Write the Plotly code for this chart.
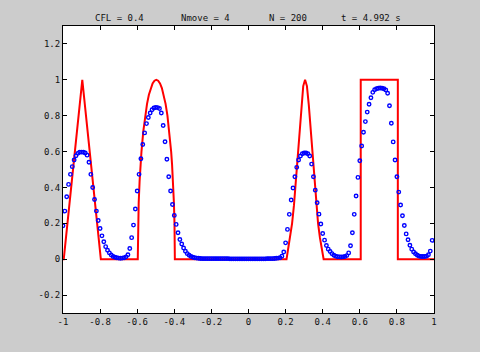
import numpy as np
import plotly.graph_objects as go

# ---- data -------------------------------------------------------------
N = 200
grid_x = np.linspace(-1.0, 1.0, N, endpoint=False)   # cell positions of the numerical solution

numerical_u = [
    0.186, 0.268, 0.348, 0.417, 0.473, 0.516, 0.553, 0.577, 0.590, 0.596,
    0.597, 0.596, 0.592, 0.580, 0.540, 0.473, 0.400, 0.333, 0.268, 0.216,
    0.171, 0.130, 0.097, 0.070, 0.050, 0.035, 0.023, 0.015, 0.011, 0.008,
    0.006, 0.005, 0.006, 0.008, 0.013, 0.025, 0.060, 0.120, 0.190, 0.280,
    0.380, 0.473, 0.560, 0.639, 0.704, 0.756, 0.790, 0.815, 0.833, 0.843,
    0.846, 0.845, 0.840, 0.815, 0.745, 0.655, 0.557, 0.460, 0.380, 0.305,
    0.244, 0.194, 0.147, 0.110, 0.085, 0.062, 0.044, 0.031, 0.022, 0.015,
    0.011, 0.008, 0.006, 0.005, 0.004, 0.003, 0.003, 0.003, 0.003, 0.003,
    0.003, 0.003, 0.003, 0.003, 0.003, 0.003, 0.003, 0.003, 0.003, 0.003,
    0.002, 0.002, 0.002, 0.002, 0.002, 0.002, 0.002, 0.002, 0.002, 0.002,
    0.002, 0.002, 0.002, 0.002, 0.002, 0.002, 0.002, 0.002, 0.002, 0.002,
    0.003, 0.003, 0.003, 0.003, 0.004, 0.005, 0.006, 0.008, 0.017, 0.040,
    0.091, 0.166, 0.250, 0.330, 0.397, 0.460, 0.512, 0.553, 0.575, 0.588,
    0.592, 0.592, 0.588, 0.575, 0.530, 0.460, 0.385, 0.315, 0.251, 0.196,
    0.143, 0.106, 0.076, 0.056, 0.043, 0.031, 0.022, 0.017, 0.014, 0.013,
    0.012, 0.013, 0.015, 0.020, 0.035, 0.075, 0.147, 0.250, 0.352, 0.456,
    0.549, 0.631, 0.708, 0.767, 0.820, 0.864, 0.900, 0.930, 0.945, 0.950,
    0.953, 0.954, 0.953, 0.950, 0.943, 0.925, 0.855, 0.758, 0.654, 0.553,
    0.460, 0.374, 0.302, 0.242, 0.188, 0.141, 0.108, 0.078, 0.056, 0.040,
    0.030, 0.022, 0.017, 0.015, 0.015, 0.015, 0.017, 0.025, 0.045, 0.105,
]

exact_x = [
    -1.0, -0.996, -0.896, -0.796,
    -0.597, -0.5965, -0.595, -0.592, -0.587, -0.582, -0.577, -0.567, -0.557,
    -0.547, -0.537, -0.527, -0.517, -0.507, -0.497, -0.487, -0.477, -0.467,
    -0.457, -0.447, -0.437, -0.427, -0.417, -0.412, -0.407, -0.402, -0.399,
    -0.3975, -0.397,
    0.205, 0.215, 0.225, 0.235, 0.245, 0.255, 0.265, 0.275, 0.285, 0.295,
    0.305, 0.315, 0.325, 0.335, 0.345, 0.355, 0.365, 0.375, 0.385, 0.395,
    0.405,
    0.605, 0.605, 0.805, 0.805, 1.0,
]
exact_u = [
    0.0, 0.0, 1.0, 0.0,
    0.0, 0.100, 0.199, 0.312, 0.436, 0.527, 0.600, 0.714, 0.800,
    0.866, 0.917, 0.954, 0.980, 0.995, 1.0, 0.995, 0.980, 0.954, 0.917,
    0.866, 0.800, 0.714, 0.600, 0.527, 0.436, 0.312, 0.199,
    0.100, 0.0,
    0.0, 0.06, 0.12, 0.20, 0.30, 0.43, 0.57, 0.72, 0.86, 0.965,
    1.0, 0.965, 0.86, 0.72, 0.57, 0.43, 0.30, 0.20, 0.12, 0.06,
    0.0,
    0.0, 1.0, 1.0, 0.0, 0.0,
]

x_ticks = [-1, -0.8, -0.6, -0.4, -0.2, 0, 0.2, 0.4, 0.6, 0.8, 1]
x_tick_text = ["-1", "-0.8", "-0.6", "-0.4", "-0.2", "0", "0.2", "0.4", "0.6", "0.8", "1"]
y_ticks = [-0.2, 0, 0.2, 0.4, 0.6, 0.8, 1, 1.2]
y_tick_text = ["-0.2", "0", "0.2", "0.4", "0.6", "0.8", "1", "1.2"]

title_parts = ["CFL = 0.4", "Nmove = 4", "N = 200", "t = 4.992 s"]
title_pos = [0.151, 0.385, 0.606, 0.829]

# ---- figure -----------------------------------------------------------
FONT = "DejaVu Sans Mono"

fig = go.Figure()
fig.add_trace(go.Scatter(
    x=exact_x, y=exact_u, mode="lines",
    line=dict(color="#ff0000", width=2),
    showlegend=False, hoverinfo="skip",
))
fig.add_trace(go.Scatter(
    x=grid_x, y=numerical_u, mode="markers",
    marker=dict(symbol="circle-open", size=3.5, color="#0000ff",
                line=dict(color="#0000ff", width=1.4)),
    showlegend=False, hoverinfo="skip",
))

for txt, px in zip(title_parts, title_pos):
    fig.add_annotation(text=txt, x=px, y=1.028, xref="paper", yref="paper",
                       showarrow=False, xanchor="center", yanchor="middle",
                       font=dict(family=FONT, size=9, color="#111111"))

axis_common = dict(
    showline=True, linecolor="#000000", linewidth=1, mirror="ticks",
    ticks="inside", ticklen=4, tickwidth=1, tickcolor="#000000",
    showgrid=False, zeroline=False,
    tickfont=dict(family=FONT, size=9, color="#111111"),
)

fig.update_layout(
    width=480, height=352,
    margin=dict(l=63, r=46, t=26, b=39),
    paper_bgcolor="#cccccc", plot_bgcolor="#ffffff",
    xaxis=dict(range=[-1, 1], tickvals=x_ticks, ticktext=x_tick_text, **axis_common),
    yaxis=dict(range=[-0.3, 1.3], tickvals=y_ticks, ticktext=y_tick_text, **axis_common),
)

fig.write_html("out.html")
